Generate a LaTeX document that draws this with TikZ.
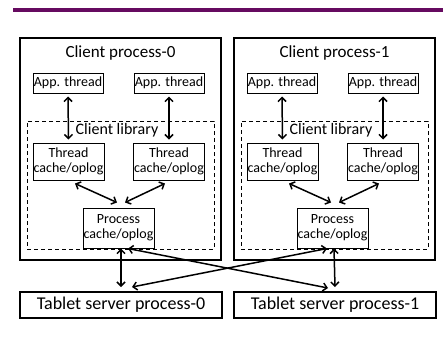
\documentclass[tikz,border=0pt]{standalone}
\usepackage{fontspec}
\setmainfont{Carlito}
\usetikzlibrary{arrows.meta,calc}
\definecolor{barpurple}{RGB}{102,10,96}
\tikzset{
  outerbox/.style={draw, line width=2pt, minimum width=201pt, minimum height=222pt, inner sep=0pt},
  smallbox/.style={draw, line width=1pt, inner sep=0pt, font=\fontsize{14}{15}\selectfont, align=center},
  libbox/.style={draw, dashed, line width=1pt, dash pattern=on 4pt off 3pt, minimum width=187pt, minimum height=128pt, inner sep=0pt},
  serverbox/.style={draw, line width=2pt, minimum width=202pt, minimum height=26pt, inner sep=0pt, font=\fontsize{18}{20}\selectfont},
  titletext/.style={font=\fontsize{17}{19}\selectfont, inner sep=0pt},
  libtext/.style={font=\fontsize{16}{18}\selectfont, inner sep=0pt},
  link/.style={line width=1.5pt, {Straight Barb[length=4pt,width=8pt]}-{Straight Barb[length=4pt,width=8pt]}}
}
\begin{document}
\begin{tikzpicture}[x=1pt,y=-1pt]
\useasboundingbox (0,0) rectangle (443,341);
% header rule
\draw[barpurple, line width=4pt] (13,10) -- (443,10);

% one client process with its client library
\foreach \dx/\k in {0/0,214/1}{
  \begin{scope}[xshift=\dx pt]
    \node[outerbox] (cp\k) at (120.5,149) {};
    \node[titletext] (cpt\k) at (120.5,53) {Client process-\k};
    \node[libbox] (lib\k) at (120.5,185) {};
    \node[libtext] (libt\k) at (117,130.5) {Client library};
    \node[smallbox, minimum width=70pt, minimum height=20pt] (appa\k) at (68,83) {App. thread};
    \node[smallbox, minimum width=70pt, minimum height=20pt] (appb\k) at (169,83) {App. thread};
    \node[smallbox, minimum width=71pt, minimum height=37pt] (tca\k) at (68.5,161.5) {Thread\\cache/oplog};
    \node[smallbox, minimum width=71pt, minimum height=37pt] (tcb\k) at (169,161.5) {Thread\\cache/oplog};
    \node[smallbox, minimum width=71pt, minimum height=40pt] (pc\k) at (118.5,228) {Process\\cache/oplog};
    \draw[link, shorten <=3pt, shorten >=3pt] (appa\k.south) -- (tca\k.north);
    \draw[link, shorten <=3pt, shorten >=3pt] (appb\k.south) -- (tcb\k.north);
    \draw[link] ($(tca\k.south)+(6.5,3)$) -- ($(pc\k.north)+(-1.5,-5)$);
    \draw[link] ($(tcb\k.south)+(-4,3)$) -- ($(pc\k.north)+(6.5,-5)$);
  \end{scope}
}

% tablet servers
\node[serverbox] (ts0) at (121,305) {Tablet server process-0};
\node[serverbox] (ts1) at (335,305) {Tablet server process-1};

% client-to-server links
\draw[link] ($(pc0.south)+(2.5,0)$) -- ($(ts0.north)+(0,-4)$);
\draw[link] ($(pc1.south)+(1.5,0)$) -- ($(ts1.north)+(0,-4)$);
\draw[link] ($(pc0.south)+(9.5,0)$) -- ($(ts1.north)+(-7,-3)$);
\draw[link] ($(ts0.north)+(11,-4)$) -- ($(pc1.south)+(-5.5,0)$);
\end{tikzpicture}
\end{document}
